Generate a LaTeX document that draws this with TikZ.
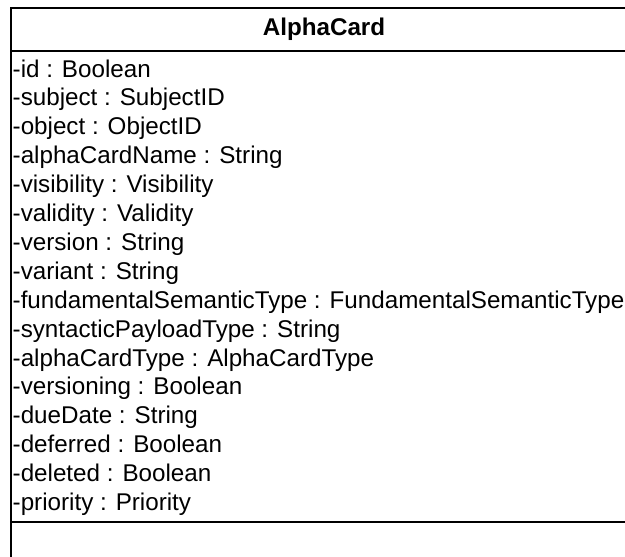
\documentclass[tikz,border=0pt]{standalone}
\usepackage{fontspec}
\setmainfont{Liberation Sans}
\newcommand{\attrfont}{\fontsize{24.2}{29}\selectfont}
\newcommand{\titlefont}{\fontsize{24.2}{29}\selectfont\bfseries}
\begin{document}
\begin{tikzpicture}[x=1pt,y=-1pt,
  edge/.style={line width=2pt, black, line cap=rect},
  thinedge/.style={line width=1.6pt, black, line cap=rect},
  attr/.style={anchor=base west, inner sep=0pt, font=\attrfont},
  classname/.style={anchor=base, inner sep=0pt, font=\titlefont}]
\useasboundingbox (0,0) rectangle (625,557);

% outline of the class box (it runs on past the right and bottom)
\coordinate (topL) at (11,8);
\coordinate (topR) at (630,8);
\coordinate (botL) at (11,562);
\coordinate (divAL) at (11,51);
\coordinate (divAR) at (630,51);
\coordinate (divBL) at (11,522);
\coordinate (divBR) at (630,522);

\draw[thinedge] (topL) -- (topR);
\draw[edge] (topL) -- (botL);
\draw[edge] (divAL) -- (divAR);
\draw[edge] (divBL) -- (divBR);

% class name
\node[classname] (name) at (324,35) {AlphaCard};

% attributes
\foreach \t [count=\i] in {
  -id : Boolean,
  -subject : SubjectID,
  -object : ObjectID,
  -alphaCardName : String,
  -visibility : Visibility,
  -validity : Validity,
  -version : String,
  -variant : String,
  -fundamentalSemanticType : FundamentalSemanticType,
  -syntacticPayloadType : String,
  -alphaCardType : AlphaCardType,
  -versioning : Boolean,
  -dueDate : String,
  -deferred : Boolean,
  -deleted : Boolean,
  -priority : Priority}
  \node[attr] (a\i) at (12.5,{77+28.9*(\i-1)}) {\t};
\end{tikzpicture}
\end{document}
